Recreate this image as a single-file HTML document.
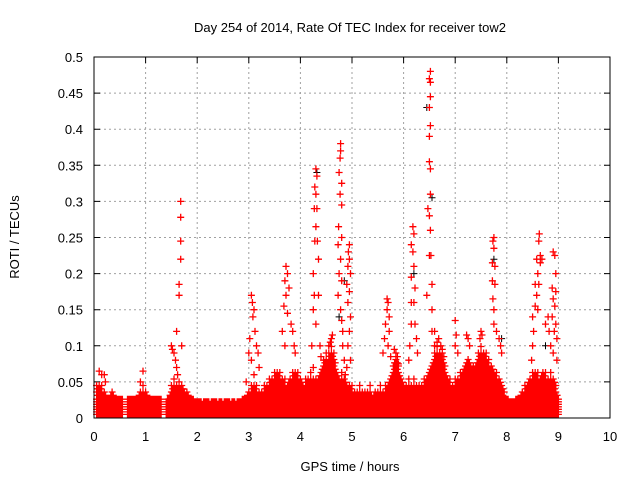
<!DOCTYPE html>
<html><head><meta charset="utf-8"><style>
html,body{margin:0;padding:0;background:#fff;}
svg{display:block;font-family:"Liberation Sans",sans-serif;}
</style></head><body>
<svg id="chart" width="640" height="480" viewBox="0 0 640 480">
<rect x="0" y="0" width="640" height="480" fill="#fff"/>
<text x="350" y="32" font-size="13" text-anchor="middle" fill="#000">Day 254 of 2014, Rate Of TEC Index for receiver tow2</text>
<text x="350" y="471" font-size="13" text-anchor="middle" fill="#000">GPS time / hours</text>
<text transform="translate(19,237) rotate(-90)" font-size="13" text-anchor="middle" fill="#000">ROTI / TECUs</text>
<g id="grid"></g>
<g id="ticks"></g>
<g id="marks"></g>
<rect x="94" y="57" width="516" height="361" fill="none" stroke="#000" stroke-width="1"/>
</svg>
<script>
// sampling of dense background band (GPS epochs)
const bandStart = 0.05;
const bandStep = 0.05;
const bandMax = [
0.045,0.05,0.045,0.04,0.035,0.035,0.04,0.035,0.03,0.035,0.03,
null,
0.03,0.035,0.03,0.03,0.035,0.04,0.045,0.04,0.035,0.03,0.035,0.03,0.035,0.03,
null,
0.025,0.03,0.045,0.055,0.05,0.045,0.05,0.04,0.04,0.035,0.03,0.025,0.025,
0.025,0.02,0.025,0.025,0.02,0.025,0.025,0.02,0.025,0.02,0.025,0.025,0.02,0.025,0.02,0.025,0.025,0.03,
0.035,0.04,0.045,0.05,0.045,0.04,0.04,0.045,
0.05,0.055,0.06,0.065,0.07,0.065,0.06,0.055,0.05,0.06,0.065,0.07,
0.065,0.06,0.05,0.055,0.06,0.065,0.06,0.055,
0.06,0.07,0.08,0.085,0.09,0.1,0.095,0.07,
0.06,0.065,0.06,0.05,0.045,0.045,0.04,0.04,0.045,0.04,
0.04,0.04,0.045,0.035,0.04,0.04,0.045,0.04,0.045,0.05,
0.06,0.08,0.09,0.08,0.06,0.05,
0.05,0.055,0.05,0.055,0.05,0.045,0.05,0.055,
0.06,0.07,0.08,0.095,0.1,0.095,0.09,0.075,0.06,
0.055,0.05,0.055,0.06,0.065,0.07,0.08,
0.085,0.08,0.075,0.08,0.09,0.1,0.095,0.09,
0.085,0.075,0.07,0.065,0.06,0.05,0.04,0.03,
0.025,0.025,0.025,0.03,0.035,0.04,
0.045,0.05,0.06,0.065,0.07,0.065,0.06,
0.07,0.065,0.06,0.065,0.06,0.05,0.03
];
const spikeT = [
0.1,0.15,0.2,0.22,0.95,0.9,0.95,
1.68,1.68,1.68,1.68,1.65,1.65,1.6,1.7,1.5,1.52,1.55,1.58,1.6,1.62,1.65,1.72,
3.05,3.07,3.1,3.08,3.12,3.02,3.0,3.05,3.15,3.18,3.2,2.95,3.1,
3.72,3.75,3.7,3.78,3.72,3.68,3.75,3.82,3.85,3.88,3.9,3.65,3.7,
4.3,4.32,4.28,4.3,4.32,4.27,4.3,4.28,4.33,4.35,4.25,4.27,4.35,4.25,4.3,4.22,4.38,4.4,4.25,
4.78,4.78,4.77,4.75,4.8,4.77,4.8,4.74,4.8,4.73,4.78,4.75,4.8,4.73,4.78,4.8,4.82,4.82,4.85,4.87,
4.95,4.93,4.95,4.92,4.97,4.9,4.95,4.92,4.97,4.95,4.92,4.97,4.9,
4.45,4.5,4.55,4.6,4.62,4.58,4.65,
5.68,5.7,5.68,5.72,5.65,5.72,5.63,5.7,5.75,5.6,
5.82,5.85,5.88,5.9,
6.18,6.2,6.15,6.18,6.2,6.15,6.22,6.15,6.2,6.15,6.22,6.12,6.25,6.27,6.1,
6.52,6.5,6.52,6.52,6.5,6.52,6.5,6.5,6.52,6.52,6.47,6.5,6.52,6.5,6.53,6.55,6.45,6.55,6.55,6.6,6.6,
6.65,6.68,6.72,6.75,6.78,
7.0,7.02,7.0,7.05,
7.22,7.25,7.28,
7.5,7.52,7.48,
7.75,7.73,7.75,7.72,7.77,7.72,7.77,7.73,7.75,7.75,7.8,7.85,7.88,7.9,
8.63,8.62,8.65,8.68,8.58,8.65,8.6,8.62,8.55,8.58,8.55,8.6,8.5,8.52,8.5,8.48,
8.9,8.93,8.95,8.88,8.95,8.9,8.93,8.88,8.95,8.92,8.97,8.85,8.9,8.97,8.8,8.82,8.75
];
const spikeV = [
0.065,0.06,0.06,0.05,0.065,0.05,0.045,
0.30,0.278,0.245,0.22,0.185,0.17,0.12,0.1,0.1,0.095,0.09,0.08,0.07,0.06,0.05,0.04,
0.17,0.16,0.15,0.14,0.12,0.11,0.09,0.08,0.1,0.09,0.07,0.05,0.06,
0.21,0.2,0.19,0.18,0.17,0.155,0.145,0.13,0.12,0.1,0.09,0.12,0.1,
0.345,0.335,0.32,0.31,0.29,0.29,0.265,0.245,0.245,0.22,0.2,0.17,0.17,0.15,0.13,0.1,0.1,0.085,0.07,
0.38,0.37,0.36,0.34,0.325,0.31,0.295,0.265,0.25,0.24,0.22,0.2,0.19,0.17,0.15,0.135,0.12,0.1,0.08,0.06,
0.24,0.23,0.22,0.21,0.2,0.185,0.175,0.16,0.14,0.12,0.1,0.08,0.07,
0.08,0.09,0.1,0.11,0.115,0.105,0.09,
0.165,0.16,0.15,0.14,0.13,0.12,0.11,0.1,0.085,0.09,
0.095,0.09,0.085,0.075,
0.265,0.255,0.24,0.23,0.21,0.195,0.18,0.16,0.16,0.13,0.13,0.1,0.11,0.09,0.08,
0.48,0.47,0.465,0.445,0.43,0.405,0.39,0.355,0.345,0.31,0.29,0.28,0.26,0.225,0.225,0.185,0.17,0.15,0.12,0.12,0.1,
0.105,0.11,0.1,0.095,0.085,
0.135,0.115,0.1,0.09,
0.115,0.11,0.1,
0.12,0.115,0.11,
0.25,0.245,0.235,0.215,0.21,0.19,0.185,0.165,0.15,0.13,0.12,0.11,0.1,0.09,
0.255,0.245,0.225,0.22,0.22,0.215,0.2,0.185,0.185,0.17,0.155,0.15,0.14,0.12,0.1,0.08,
0.23,0.225,0.2,0.18,0.175,0.165,0.155,0.14,0.13,0.12,0.11,0.1,0.09,0.08,0.14,0.12,0.13
];
const blackT = [4.32,4.85,6.55,6.45,7.75,6.2,4.75,7.9,8.75];
const blackV = [0.34,0.19,0.305,0.43,0.22,0.2,0.14,0.11,0.1];
const xTicks = [0,1,2,3,4,5,6,7,8,9,10];
const yTicks = [0,0.05,0.1,0.15,0.2,0.25,0.3,0.35,0.4,0.45,0.5];
const yTickLabels = ["0","0.05","0.1","0.15","0.2","0.25","0.3","0.35","0.4","0.45","0.5"];

const X0=94,X1=610,Y0=418,Y1=57;
const xs = t => X0 + (t-0)/(10-0)*(X1-X0);
const ys = v => Y0 - (v-0)/(0.5-0)*(Y0-Y1);
const NS="http://www.w3.org/2000/svg";
const grid=document.getElementById('grid'), ticks=document.getElementById('ticks'), marks=document.getElementById('marks');

xTicks.forEach((t,i)=>{
  const x=xs(t);
  if(i>0&&i<xTicks.length-1){
    const g=document.createElementNS(NS,'line');
    g.setAttribute('x1',x);g.setAttribute('x2',x);g.setAttribute('y1',Y1);g.setAttribute('y2',Y0);
    g.setAttribute('stroke','#a0a0a0');g.setAttribute('stroke-dasharray','2,3');
    
    
    grid.appendChild(g);
  }
  const tk=document.createElementNS(NS,'path');
  tk.setAttribute('d',`M${x},${Y0}v-6M${x},${Y1}v6`);tk.setAttribute('stroke','#000');
  
  
  ticks.appendChild(tk);
  const lb=document.createElementNS(NS,'text');
  lb.setAttribute('x',x);lb.setAttribute('y',Y0+23);lb.setAttribute('font-size','13');lb.setAttribute('text-anchor','middle');
  lb.textContent=String(t);
  
  
  ticks.appendChild(lb);
});
yTicks.forEach((v,i)=>{
  const y=ys(v);
  if(i>0&&i<yTicks.length-1){
    const g=document.createElementNS(NS,'line');
    g.setAttribute('x1',X0);g.setAttribute('x2',X1);g.setAttribute('y1',y);g.setAttribute('y2',y);
    g.setAttribute('stroke','#a0a0a0');g.setAttribute('stroke-dasharray','2,3');
    
    
    grid.appendChild(g);
  }
  const tk=document.createElementNS(NS,'path');
  tk.setAttribute('d',`M${X0},${y}h6M${X1},${y}h-6`);tk.setAttribute('stroke','#000');
  
  
  ticks.appendChild(tk);
  const lb=document.createElementNS(NS,'text');
  lb.setAttribute('x',X0-11);lb.setAttribute('y',y+5);lb.setAttribute('font-size','13');lb.setAttribute('text-anchor','end');
  lb.textContent=yTickLabels[i];
  
  
  ticks.appendChild(lb);
});

const H=3.5;
const plus=(t,v)=>{const x=xs(t),y=ys(v);return `M${(x-H).toFixed(1)},${y.toFixed(1)}h${2*H}M${x.toFixed(1)},${(y-H).toFixed(1)}v${2*H}`;};

// black series (drawn first, red overlays)
let dB='';
blackT.forEach((t,i)=>{dB+=plus(t,blackV[i]);});
const pb=document.createElementNS(NS,'path');
pb.setAttribute('d',dB);pb.setAttribute('stroke','#000');pb.setAttribute('fill','none');pb.setAttribute('stroke-width','1');


marks.appendChild(pb);

// red band: solid lower core, sparser markers up to envelope
const CORE=0.027;
let dR='';
const column=(t,m)=>{
  const top=Math.min(m,CORE);
  for(let v=0.005; v<=top+1e-9; v+=0.0035){ dR+=plus(t,v); }
  for(let v=CORE+0.009; v<=m+1e-9; v+=0.009){ dR+=plus(t,v); }
};
bandMax.forEach((m,i)=>{
  if(m===null) return;
  const t=bandStart+i*bandStep;
  column(t,m);
  const nxt=bandMax[i+1];
  if(nxt!==null && nxt!==undefined){
    const mh=(m+nxt)/2;
    const t2=t+bandStep/2;
    const top=Math.min(mh,CORE);
    for(let v=0.005; v<=top+1e-9; v+=0.0035){ dR+=plus(t2,v); }
    for(let v=CORE+0.0045; v<=mh-0.004; v+=0.009){ dR+=plus(t2,v); }
  }
});
spikeT.forEach((t,i)=>{dR+=plus(t,spikeV[i]);});
const pr=document.createElementNS(NS,'path');
pr.setAttribute('d',dR);pr.setAttribute('stroke','#ff0000');pr.setAttribute('fill','none');pr.setAttribute('stroke-width','1.3');


marks.appendChild(pr);
</script>
</body></html>
